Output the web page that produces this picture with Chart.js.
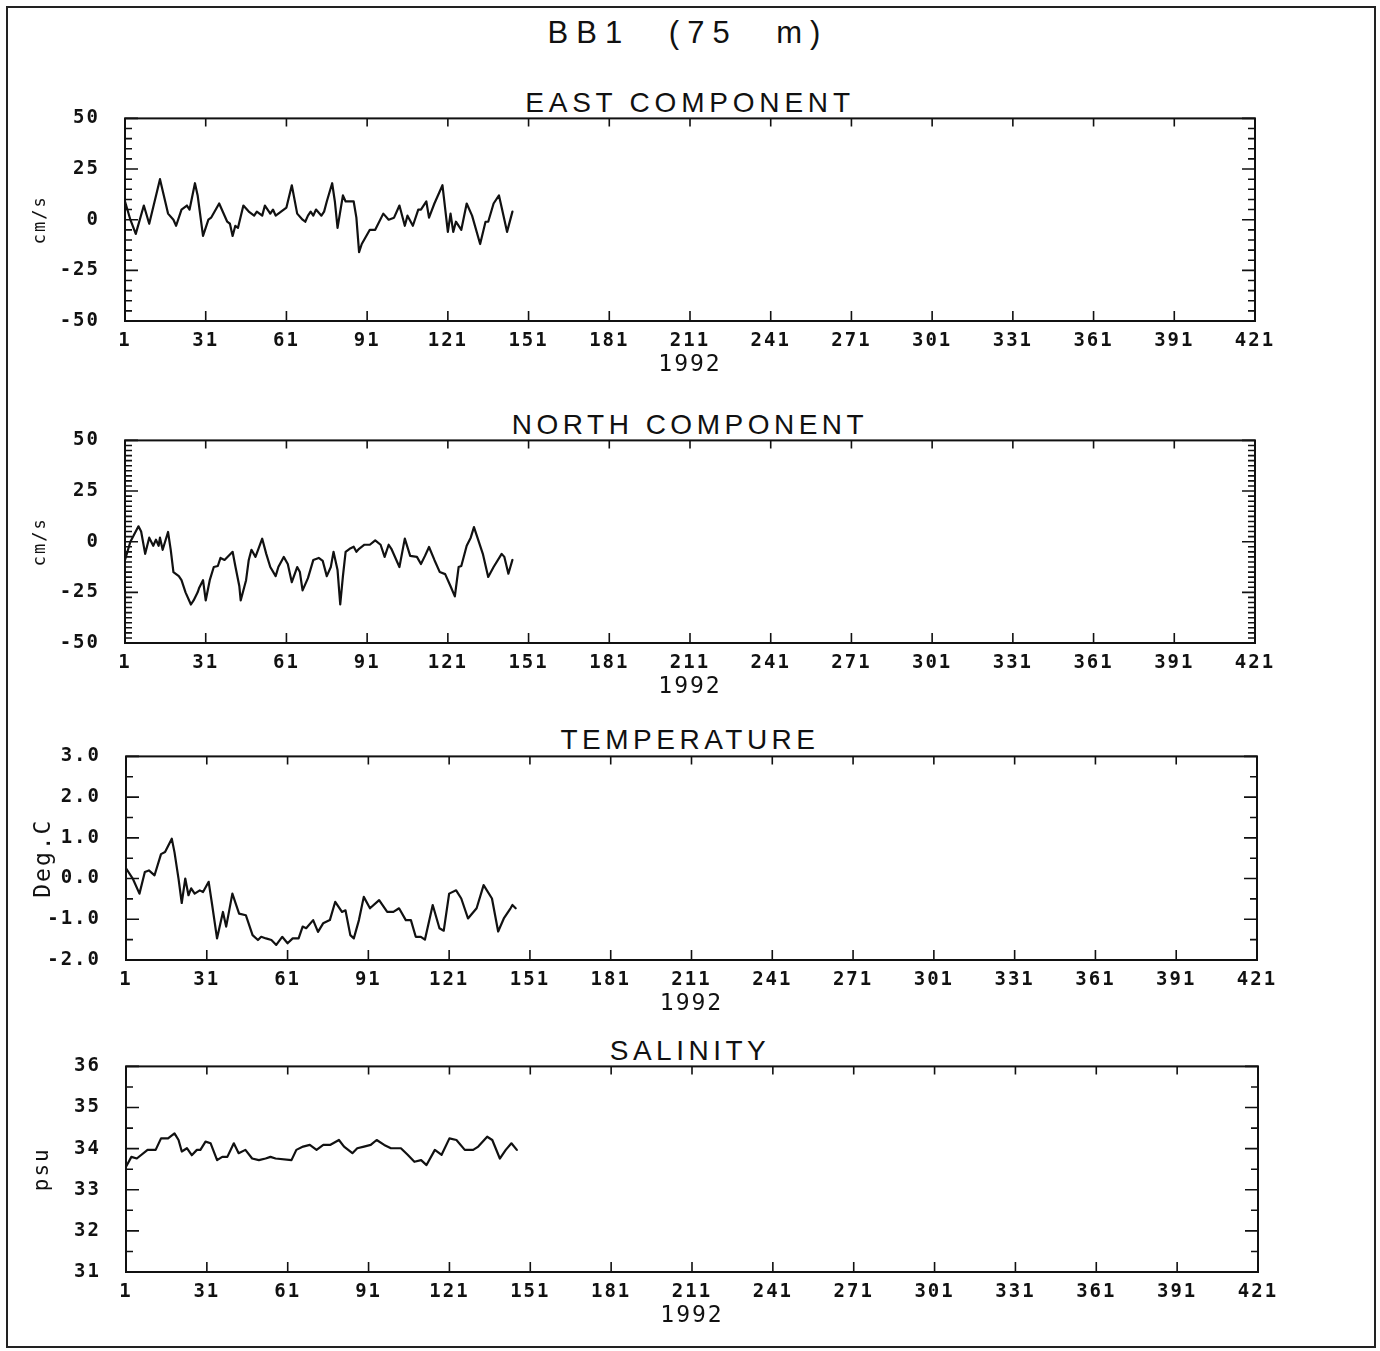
<!DOCTYPE html>
<html><head><meta charset="utf-8">
<script src="https://cdn.jsdelivr.net/npm/chart.js@4.4.1/dist/chart.umd.min.js"></script>
<style>
html,body{margin:0;padding:0;background:#fff;}
#page{position:relative;width:1380px;height:1351px;overflow:hidden;background:#fff;}
#frame{position:absolute;left:6px;top:6px;width:1370px;height:1342px;border:2px solid #222;box-sizing:border-box;}
.ttl{position:absolute;left:0;width:1380px;text-align:center;font-family:"Liberation Sans","DejaVu Sans",sans-serif;color:#111;letter-spacing:4px;line-height:1;white-space:pre;}
canvas{position:absolute;left:0;}
</style></head>
<body><div id="page">
<div id="frame"></div>
<div class="ttl" style="top:17px;left:-2px;font-size:31px;letter-spacing:8px;word-spacing:22px;">BB1 (75 m)</div>
<div class="ttl" style="top:89px;font-size:28px;letter-spacing:4.8px;">EAST COMPONENT</div>
<div class="ttl" style="top:411px;font-size:28px;letter-spacing:4.5px;">NORTH COMPONENT</div>
<div class="ttl" style="top:726px;font-size:28px;letter-spacing:4.5px;">TEMPERATURE</div>
<div class="ttl" style="top:1037px;font-size:28px;letter-spacing:4.5px;">SALINITY</div>
<canvas id="c1"></canvas>
<canvas id="c2"></canvas>
<canvas id="c3"></canvas>
<canvas id="c4"></canvas>
</div>
<script>
// ---- data (day of 1992, value) ----
const xTickValues = [1,31,61,91,121,151,181,211,241,271,301,331,361,391,421];
const yearLabel = "1992";

const eastDays = [1,3,5,8,10,14,17,19,20,22,24,25,27,28,30,32,33,36,39,40,41,42,43,45,47,49,50,52,53,55,56,57,59,61,63,65,67,68,69,70,71,72,74,75,76,78,79,80,82,83,86,87,88,89,92,94,97,99,101,103,105,106,108,110,111,113,114,116,119,121,122,123,124,126,128,130,133,135,136,138,140,141,143,145];
const eastVals = [9,0,-7,7,-2,20,3,0,-3,5,7,5,18,12,-8,0,1,8,-1,-2,-8,-3,-4,7,4,2,4,2,7,3,5,2,4,6,17,3,0,-1,2,4,2,5,2,4,9,18,9,-4,12,9,9,1,-16,-12,-5,-5,3,0,1,7,-3,2,-3,5,5,9,1,8,17,-6,3,-6,-1,-5,8,2,-12,-1,-1,8,12,6,-6,4];

const northDays = [1,3,6,7,8.5,10,11.5,12.5,13.5,14,15,17,18,19,21,22,23.5,25.5,26.5,28,28.5,30,31,32.5,34,35.5,36.5,38,41,42,43.5,44,46,47,48,49.5,52,53.5,55,57,58,60,61.5,63,65,66,67,69,71,73,74.5,76,77.5,78.5,80,81,82,83,84.5,86,87,88,90,92,94,96,97.5,99,100,103,105,107,109.5,111,112.5,114,116,118,120,122,123.6,125,126,128,129.5,130.7,132,134,136,138,141,142,143.5,145];
const northVals = [-9,0,7.6,5,-6,2,-2,1,-2,2,-4,4.8,-4,-15,-17,-19,-25,-31,-29,-25,-23,-19,-29,-19,-12.5,-12,-8,-9,-5,-12,-22,-29,-19,-9,-4,-7.5,1.5,-6,-12.5,-17,-12.5,-7.5,-11,-20,-12.5,-15,-24,-18,-9,-8,-9.5,-17,-12.5,-5,-14,-31,-17,-5,-3.5,-2.5,-5,-3.5,-1.5,-1.5,0.7,-1.5,-7.5,-1.5,-3.5,-12.5,1.5,-7,-7.5,-11,-7,-2.6,-9,-15,-16,-22,-27,-12.5,-12,-2,2,7.2,2,-6,-17.4,-12.5,-6,-7.5,-15.8,-9];

const tempDays = [1,3.5,6,8,9.5,11.6,14,15.5,18,19,20.5,21.7,23,24.2,25.2,26.5,28.4,29.6,31.7,33,34.8,37,38.2,40.5,43,45.5,48,50,51.2,53,55,56.8,59,61,62.9,65.1,66.6,67.9,70.5,72.3,74.2,76.7,78.7,81.2,82.5,84.3,85.6,87.5,89.3,91.6,95,98,100.3,102.4,104.9,106.8,108.6,110.5,112,114.9,117.4,119,121,123.6,125.5,128,131.2,133.8,136.9,139.2,141.3,143.8,144.5,145.7];
const tempVals = [0.25,0,-0.37,0.16,0.2,0.08,0.6,0.65,0.98,0.65,0,-0.6,0,-0.41,-0.24,-0.37,-0.29,-0.33,-0.08,-0.65,-1.47,-0.82,-1.18,-0.37,-0.86,-0.9,-1.39,-1.51,-1.43,-1.47,-1.51,-1.63,-1.43,-1.59,-1.47,-1.47,-1.18,-1.22,-1.02,-1.31,-1.1,-1.02,-0.57,-0.82,-0.78,-1.39,-1.47,-1.02,-0.45,-0.73,-0.53,-0.82,-0.82,-0.73,-1.02,-1.02,-1.43,-1.43,-1.5,-0.65,-1.22,-1.28,-0.37,-0.29,-0.49,-0.98,-0.73,-0.16,-0.49,-1.3,-0.98,-0.73,-0.65,-0.73];

const salDays = [1,3,5,9,12,14,16.6,19,20.5,21.7,23.6,25.4,27.3,28.6,30.5,32.4,34.8,36.7,38.6,41,42.8,45.3,47.8,50.3,52.8,54.6,56.5,62.4,64.2,66.7,69.2,71.7,74.2,76.7,80,81.9,85,86.8,89.3,91.8,94,96.8,99.3,103,105.5,108,110.5,112.5,115.6,118.1,121,123.6,126.7,129.8,131.7,135,136.9,139.7,141.9,144,146];
const salVals = [33.56,33.8,33.76,33.97,33.97,34.25,34.25,34.37,34.21,33.93,34.01,33.84,33.97,33.97,34.17,34.13,33.72,33.8,33.8,34.13,33.89,33.97,33.76,33.72,33.76,33.8,33.76,33.72,33.97,34.05,34.09,33.97,34.09,34.09,34.21,34.05,33.89,34.01,34.05,34.09,34.21,34.09,34.01,34.01,33.85,33.68,33.72,33.6,33.97,33.85,34.25,34.21,33.97,33.97,34.05,34.29,34.21,33.76,33.97,34.13,33.97];

// ---- layout ----
const panels = [
  {id:'c1', days:eastDays, vals:eastVals, L:125, R:1255, T:118, B:321, ymin:-50, ymax:50, ystep:25, minor:5, ytitle:'cm/s', ytitleSize:17, dec:0},
  {id:'c2', days:northDays, vals:northVals, L:125, R:1255, T:440, B:643, ymin:-50, ymax:50, ystep:25, minor:2.5, ytitle:'cm/s', ytitleSize:17, dec:0},
  {id:'c3', days:tempDays, vals:tempVals, L:126, R:1257, T:756, B:960, ymin:-2, ymax:3, ystep:1, minor:0.5, ytitle:'Deg.C', ytitleSize:23, dec:1},
  {id:'c4', days:salDays, vals:salVals, L:126, R:1258, T:1066, B:1272, ymin:31, ymax:36, ystep:1, minor:0.5, ytitle:'psu', ytitleSize:21, dec:0}
];

const PADT = 14, XAXH = 62;
const monoFont = '"DejaVu Sans Mono","Liberation Mono",monospace';

const framePlugin = {
  id:'frameTicks',
  beforeDraw(chart){ chart.ctx.letterSpacing = '2px'; },
  afterDraw(chart, args, opts){
    const ctx = chart.ctx, a = chart.chartArea, xs = chart.scales.x, ys = chart.scales.y;
    ctx.save();
    ctx.letterSpacing = '0px';
    ctx.strokeStyle = '#111';
    ctx.lineWidth = 2;
    ctx.strokeRect(a.left, a.top, a.right - a.left, a.bottom - a.top);
    ctx.lineWidth = 1.6;
    ctx.beginPath();
    xs.ticks.forEach(t => {
      const px = xs.getPixelForValue(t.value);
      ctx.moveTo(px, a.top); ctx.lineTo(px, a.top + 8);
      ctx.moveTo(px, a.bottom); ctx.lineTo(px, a.bottom - 10);
    });
    const step = opts.minor, maj = opts.major;
    const n = Math.round((ys.max - ys.min) / step);
    for (let i = 0; i <= n; i++) {
      const v = ys.min + i * step;
      const isMaj = Math.abs((v - ys.min) / maj - Math.round((v - ys.min) / maj)) < 1e-6;
      const len = isMaj ? 13 : 7;
      const py = ys.getPixelForValue(v);
      ctx.moveTo(a.left, py); ctx.lineTo(a.left + len, py);
      ctx.moveTo(a.right, py); ctx.lineTo(a.right - len, py);
    }
    ctx.stroke();
    ctx.restore();
  }
};

function makeChart(cv, p, H) {
  cv.width = 1380; cv.height = H;
  cv.style.width = '1380px'; cv.style.height = H + 'px';
  const pts = p.days.map((d, i) => ({x: d, y: p.vals[i]}));
  return new Chart(cv, {
    type: 'line',
    data: { datasets: [{ data: pts, borderColor: '#111', borderWidth: 2.2, pointRadius: 0, tension: 0, fill: false, borderJoinStyle: 'round', borderCapStyle: 'round' }] },
    options: {
      responsive: false, animation: false, devicePixelRatio: 1,
      layout: { padding: { left: 0, right: 1380 - p.R, top: PADT, bottom: 0 } },
      plugins: { legend: { display: false }, tooltip: { enabled: false }, title: { display: false },
        frameTicks: { minor: p.minor, major: p.ystep } },
      scales: {
        x: {
          type: 'linear', min: 1, max: 421,
          afterBuildTicks: s => { s.ticks = xTickValues.map(v => ({value: v})); },
          afterFit: s => { s.height = XAXH; },
          grid: { display: false, drawTicks: false },
          border: { display: false },
          ticks: { color: '#111', padding: 9, maxRotation: 0, autoSkip: false,
            font: { family: monoFont, size: 19, weight: 'bold' },
            callback: v => String(v) },
          title: { display: true, text: yearLabel, color: '#111', padding: { top: 0, bottom: 4 },
            font: { family: monoFont, size: 23, weight: 'normal' } }
        },
        y: {
          type: 'linear', min: p.ymin, max: p.ymax,
          afterBuildTicks: s => { const t = []; for (let v = p.ymin; v <= p.ymax + 1e-9; v += p.ystep) t.push({value: v}); s.ticks = t; },
          afterFit: s => { s.width = p.L; },
          grid: { display: false, drawTicks: false },
          border: { display: false },
          ticks: { color: '#111', padding: 25, font: { family: monoFont, size: 19, weight: 'bold' },
            callback: v => Number(v).toFixed(p.dec) },
          title: { display: true, text: p.ytitle, color: '#111', padding: { top: 30, bottom: 0 },
            font: { family: monoFont, size: p.ytitleSize, weight: 'normal' } }
        }
      }
    },
    plugins: [framePlugin]
  });
}

panels.forEach(p => {
  const cv = document.getElementById(p.id);
  let H = (p.B - p.T) + PADT + XAXH;
  let chart = makeChart(cv, p, H);
  const a = chart.chartArea;
  const diff = (p.B - p.T) - (a.bottom - a.top);
  if (Math.abs(diff) > 0.5) {
    chart.destroy();
    H = Math.round(H + diff);
    chart = makeChart(cv, p, H);
  }
  cv.style.top = (p.T - chart.chartArea.top) + 'px';
});
</script>
</body></html>
